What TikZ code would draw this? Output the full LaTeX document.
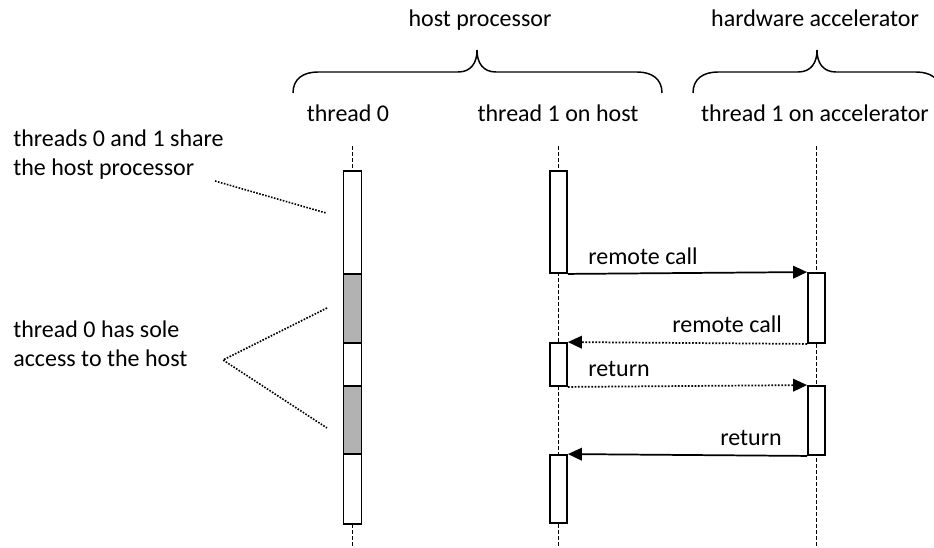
\documentclass[tikz,border=0pt]{standalone}
\usepackage{fontspec}
\setmainfont{Carlito}
\usetikzlibrary{arrows.meta,fit}
\definecolor{busygray}{RGB}{178,178,178}

\begin{document}
\begin{tikzpicture}[x=0.75pt,y=-0.75pt,
    font=\fontsize{18}{21.75}\selectfont,
    bar/.style={draw,line width=1.4pt,fill=white,inner sep=0pt},
    busy/.style={bar,fill=busygray},
    life/.style={line width=1.1pt,dash pattern=on 3pt off 1.5pt},
    msg/.style={line width=1.3pt,-{Triangle[length=10.5pt,width=9.5pt]}},
    dotmsg/.style={msg,dash pattern=on 1.3pt off 1.2pt},
    note/.style={line width=1.2pt,dash pattern=on 1.2pt off 1.1pt},
    hdr/.style={anchor=base,inner sep=0pt},
    curly/.style={line width=1.1pt}]

    % Frame
    \clip (0,0) rectangle (934,548);
    % Groups and braces
    \node[hdr] (host) at (480,27) {host processor};
    \node[hdr] (accel) at (815,27) {hardware accelerator};
    \draw[curly] (293,93) .. controls (293,79) and (303,72) .. (318,72) -- (458,72)
        .. controls (471,72) and (477,63) .. (477,50)
        .. controls (477,63) and (483,72) .. (496,72) -- (637,72)
        .. controls (652,72) and (662,79) .. (662,93);
    \draw[curly] (693,93) .. controls (693,79) and (703,72) .. (718,72) -- (798,72)
        .. controls (811,72) and (817,63) .. (817,50)
        .. controls (817,63) and (823,72) .. (836,72) -- (916,72)
        .. controls (931,72) and (941,79) .. (941,93);
    % Thread labels
    \node[hdr] (t0) at (348,122) {thread 0};
    \node[hdr] (t1h) at (558,122) {thread 1 on host};
    \node[hdr] (t1a) at (815,122) {thread 1 on accelerator};
    % Lifelines
    \coordinate (l0top) at (352.5,146);
    \coordinate (l0bot) at (352.5,548);
    \coordinate (l1top) at (558.5,146);
    \coordinate (l1bot) at (558.5,548);
    \coordinate (l2top) at (816.5,146);
    \coordinate (l2bot) at (816.5,548);
    \draw[life] (l0top) -- (l0bot);
    \draw[life] (l1top) -- (l1bot);
    \draw[life] (l2top) -- (l2bot);
    % Thread 0 bar
    \node[bar,fit={(343.5,171) (361.5,274)}] (b0a) {};
    \node[busy,fit={(343.5,274) (361.5,343)}] (b0b) {};
    \node[bar,fit={(343.5,343) (361.5,386)}] (b0c) {};
    \node[busy,fit={(343.5,386) (361.5,454)}] (b0d) {};
    \node[bar,fit={(343.5,454) (361.5,524)}] (b0e) {};
    % Thread 1 bars
    \node[bar,fit={(550,171) (567,273)}] (h1) {};
    \node[bar,fit={(550,343) (567,386)}] (h2) {};
    \node[bar,fit={(550,455) (567,523)}] (h3) {};
    \node[bar,fit={(808,273) (825,343)}] (a1) {};
    \node[bar,fit={(808,386) (825,455)}] (a2) {};
    % Messages
    \draw[msg] (h1.south east) -- (a1.north west);
    \node[anchor=base west,inner sep=0pt] (call1) at (588,265) {remote call};
    \draw[dotmsg] (a1.south west) -- (h2.north east);
    \node[anchor=base east,inner sep=0pt] (call2) at (782,333) {remote call};
    \draw[dotmsg] (h2.south east) -- (a2.north west);
    \node[anchor=base west,inner sep=0pt] (ret1) at (588,377) {return};
    \draw[msg] (a2.south west) -- (h3.north east);
    \node[anchor=base east,inner sep=0pt] (ret2) at (782,445) {return};
    % Notes
    \node[anchor=base west,align=left,inner sep=0pt] (share) at (13,176)
        {threads 0 and 1 share\\the host processor};
    \node[anchor=base west,align=left,inner sep=0pt] (sole) at (13,367)
        {thread 0 has sole\\access to the host};
    \coordinate (n1s) at (215,181);
    \coordinate (n1e) at (326,213);
    \coordinate (n2a) at (223,360);
    \coordinate (n2u) at (327,308);
    \coordinate (n2d) at (327,428);
    \draw[note] (n1s) -- (n1e);
    \draw[note] (n2u) -- (n2a) -- (n2d);
\end{tikzpicture}
\end{document}
